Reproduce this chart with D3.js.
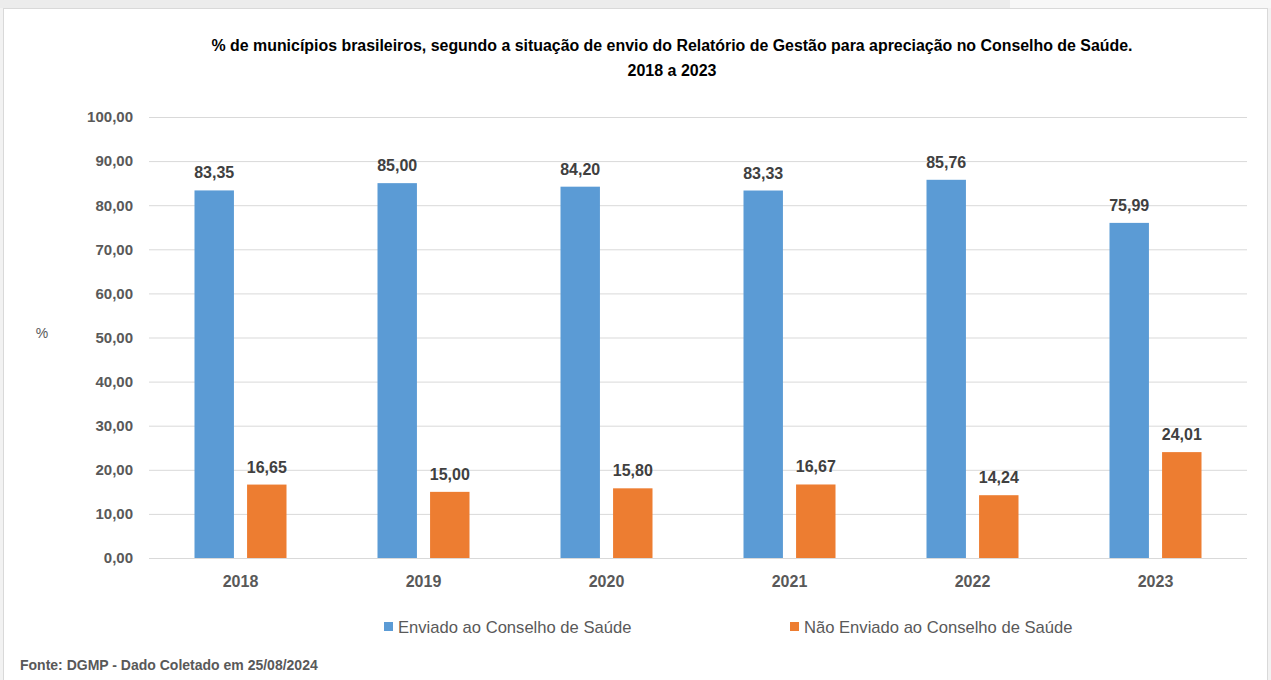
<!DOCTYPE html>
<html><head><meta charset="utf-8">
<script src="https://cdn.jsdelivr.net/npm/d3@7"></script>
<style>html,body{margin:0;padding:0;background:#f2f2f2;}svg{display:block;}</style>
</head><body>
<svg id="chart" width="1271" height="680"></svg>
<script>
const categories = ["2018","2019","2020","2021","2022","2023"];
const seriesNames = ["Enviado ao Conselho de Saúde","Não Enviado ao Conselho de Saúde"];
const enviado = [83.35, 85.00, 84.20, 83.33, 85.76, 75.99];
const naoEnviado = [16.65, 15.00, 15.80, 16.67, 14.24, 24.01];
const yTicks = [0,10,20,30,40,50,60,70,80,90,100];
const colors = ["#5b9bd5","#ed7d31"];
const titleLines = ["% de municípios brasileiros, segundo a situação de envio do Relatório de Gestão para apreciação no Conselho de Saúde.","2018 a 2023"];
const footer = "Fonte: DGMP - Dado Coletado em 25/08/2024";

const fmt = v => v.toFixed(2).replace(".", ",");
const svg = d3.select("#chart");
const font = "'Liberation Sans', Arial, sans-serif";

svg.append("rect").attr("x",0).attr("y",0).attr("width",1010).attr("height",8).attr("fill","#ececec");
svg.append("rect").attr("x",1010).attr("y",0).attr("width",261).attr("height",8).attr("fill","#f7f7f7");
svg.append("rect").attr("x",3.5).attr("y",8.5).attr("width",1264).attr("height",680).attr("fill","#fff").attr("stroke","#d9d9d9");

const x0 = d3.scaleBand().domain(categories).range([149,1247]).paddingInner(0).paddingOuter(0);
const y = d3.scaleLinear().domain([0,100]).range([558,117]);
const x1 = d3.scaleBand().domain([0,1]).range([-46, 46]).paddingInner(0.25);

// gridlines
svg.append("g").selectAll("line").data(yTicks).join("line")
  .attr("x1",149).attr("x2",1247).attr("y1",d=>y(d)+0.5).attr("y2",d=>y(d)+0.5)
  .attr("stroke","#d9d9d9").attr("stroke-width",1);

// y axis labels
const yAxis = d3.axisLeft(y).tickValues(yTicks).tickFormat(fmt).tickSize(0).tickPadding(16);
const ga = svg.append("g").attr("transform","translate(149,0)").call(yAxis);
ga.select(".domain").remove();
ga.selectAll("text").attr("font-family",font).attr("font-size",15).attr("font-weight","bold").attr("fill","#595959");

// x axis labels
const xAxis = d3.axisBottom(x0).tickSize(0).tickPadding(18);
const gx = svg.append("g").attr("transform","translate(0,558)").call(xAxis);
gx.select(".domain").remove();
gx.selectAll("text").attr("font-family",font).attr("font-size",16).attr("font-weight","bold").attr("fill","#595959");

const series = [enviado, naoEnviado];
series.forEach((vals, si) => {
  const g = svg.append("g");
  g.selectAll("rect").data(vals).join("rect")
    .attr("x",(d,i)=>x0(categories[i]) + x0.bandwidth()/2 + x1(si))
    .attr("width",x1.bandwidth())
    .attr("y",d=>y(d)).attr("height",d=>y(0)-y(d))
    .attr("fill",colors[si]);
  g.selectAll("text").data(vals).join("text")
    .attr("x",(d,i)=>x0(categories[i]) + x0.bandwidth()/2 + x1(si) + x1.bandwidth()/2)
    .attr("y",d=>y(d)-12)
    .attr("text-anchor","middle")
    .attr("font-family",font).attr("font-size",16).attr("font-weight","bold").attr("fill","#404040")
    .text(fmt);
});

// title
svg.append("text").attr("x",672).attr("y",51).attr("text-anchor","middle")
  .attr("font-family",font).attr("font-size",16).attr("font-weight","bold").attr("fill","#000")
  .attr("textLength",921).attr("lengthAdjust","spacingAndGlyphs").text(titleLines[0]);
svg.append("text").attr("x",672).attr("y",76).attr("text-anchor","middle")
  .attr("font-family",font).attr("font-size",16).attr("font-weight","bold").attr("fill","#000")
  .text(titleLines[1]);

// y axis title
svg.append("text").attr("x",42).attr("y",338).attr("text-anchor","middle")
  .attr("font-family",font).attr("font-size",14).attr("fill","#595959").text("%");

// legend
const legendX = [384, 790];
seriesNames.forEach((n,i)=>{
  svg.append("rect").attr("x",legendX[i]).attr("y",622).attr("width",9).attr("height",9).attr("fill",colors[i]);
  svg.append("text").attr("x",legendX[i]+14).attr("y",633)
    .attr("font-family",font).attr("font-size",16.6).attr("fill","#595959").text(n);
});

// footer
svg.append("text").attr("x",20).attr("y",670)
  .attr("font-family",font).attr("font-size",14).attr("font-weight","bold").attr("fill","#595959").text(footer);
</script>
</body></html>
